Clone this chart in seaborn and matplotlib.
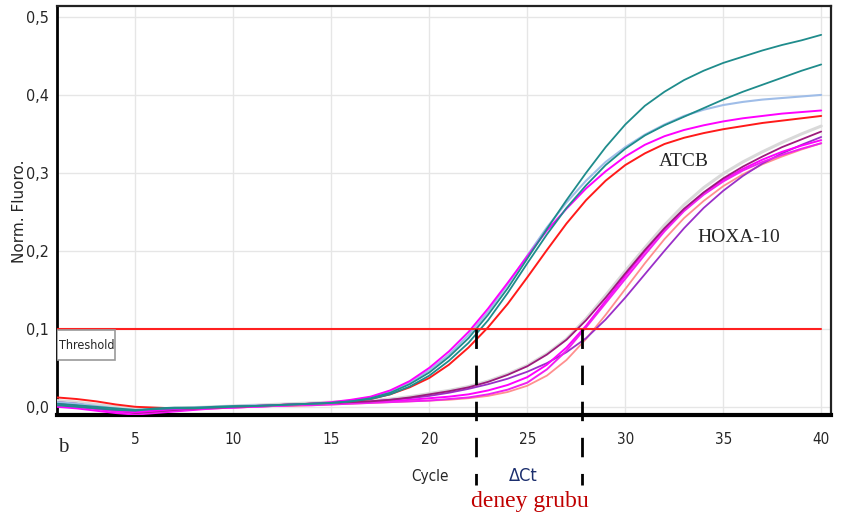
import numpy as np
import pandas as pd
import matplotlib
matplotlib.use("Agg")
import matplotlib.pyplot as plt
import matplotlib.patches as mpatches
import seaborn as sns

cycles = list(range(1, 41))

atcb_teal_a = [0.004, 0.002, 0.0, -0.002, -0.004, -0.003, -0.002, -0.002, -0.001, 0.000,
               0.001, 0.002, 0.003, 0.004, 0.005, 0.007, 0.011, 0.018, 0.029, 0.044,
               0.064, 0.088, 0.118, 0.152, 0.190, 0.228, 0.265, 0.300, 0.333, 0.362,
               0.386, 0.404, 0.419, 0.431, 0.441, 0.449, 0.457, 0.464, 0.470, 0.477]
atcb_teal_b = [0.002, 0.0, -0.002, -0.004, -0.005, -0.002, -0.001, -0.001, 0.0, 0.001,
               0.001, 0.002, 0.003, 0.004, 0.005, 0.007, 0.010, 0.016, 0.026, 0.040,
               0.059, 0.082, 0.111, 0.146, 0.184, 0.221, 0.255, 0.284, 0.310, 0.331,
               0.348, 0.361, 0.372, 0.383, 0.394, 0.404, 0.413, 0.422, 0.431, 0.439]
atcb_lightblue = [0.006, 0.004, 0.001, -0.002, -0.004, -0.003, -0.002, -0.001, 0.0, 0.001,
                  0.002, 0.002, 0.003, 0.004, 0.005, 0.008, 0.012, 0.020, 0.031, 0.047,
                  0.067, 0.092, 0.122, 0.157, 0.194, 0.230, 0.262, 0.290, 0.314, 0.333,
                  0.349, 0.362, 0.373, 0.381, 0.387, 0.391, 0.394, 0.396, 0.398, 0.400]
atcb_magenta = [0.003, 0.001, -0.002, -0.005, -0.007, -0.005, -0.003, -0.002, -0.001, 0.0,
                0.001, 0.002, 0.003, 0.004, 0.006, 0.009, 0.013, 0.021, 0.033, 0.050,
                0.071, 0.096, 0.126, 0.159, 0.193, 0.226, 0.254, 0.280, 0.302, 0.321,
                0.336, 0.347, 0.355, 0.361, 0.366, 0.370, 0.373, 0.376, 0.378, 0.380]
atcb_red = [0.012, 0.010, 0.007, 0.003, 0.0, -0.001, -0.002, -0.002, -0.001, 0.0,
            0.001, 0.002, 0.003, 0.004, 0.005, 0.007, 0.010, 0.016, 0.025, 0.037,
            0.054, 0.076, 0.102, 0.132, 0.166, 0.201, 0.235, 0.265, 0.290, 0.310,
            0.325, 0.337, 0.345, 0.351, 0.356, 0.360, 0.364, 0.367, 0.370, 0.373]

hoxa_grey = [0.008, 0.006, 0.003, 0.0, -0.003, -0.003, -0.002, -0.001, 0.0, 0.001,
             0.002, 0.003, 0.004, 0.005, 0.006, 0.007, 0.008, 0.010, 0.013, 0.017,
             0.021, 0.026, 0.033, 0.042, 0.053, 0.068, 0.087, 0.113, 0.143, 0.174,
             0.204, 0.233, 0.259, 0.281, 0.299, 0.314, 0.327, 0.339, 0.350, 0.360]
hoxa_darkmagenta = [0.006, 0.004, 0.0, -0.004, -0.008, -0.006, -0.004, -0.002, -0.001, 0.0,
                    0.001, 0.002, 0.003, 0.004, 0.005, 0.006, 0.007, 0.009, 0.012, 0.016,
                    0.020, 0.025, 0.032, 0.041, 0.052, 0.067, 0.086, 0.111, 0.140, 0.171,
                    0.201, 0.229, 0.254, 0.275, 0.293, 0.308, 0.321, 0.333, 0.343, 0.353]
hoxa_magenta_a = [0.002, 0.0, -0.003, -0.006, -0.009, -0.007, -0.005, -0.003, -0.002, -0.001,
                  0.0, 0.001, 0.002, 0.002, 0.003, 0.004, 0.005, 0.006, 0.007, 0.008,
                  0.010, 0.012, 0.016, 0.022, 0.031, 0.048, 0.072, 0.102, 0.133, 0.164,
                  0.195, 0.225, 0.251, 0.272, 0.289, 0.303, 0.314, 0.323, 0.331, 0.338]
hoxa_magenta_b = [0.0, -0.002, -0.005, -0.008, -0.010, -0.008, -0.006, -0.004, -0.002, -0.001,
                  0.0, 0.001, 0.002, 0.003, 0.004, 0.005, 0.006, 0.007, 0.009, 0.011,
                  0.013, 0.016, 0.021, 0.028, 0.038, 0.054, 0.076, 0.104, 0.136, 0.168,
                  0.199, 0.228, 0.253, 0.274, 0.291, 0.305, 0.317, 0.327, 0.335, 0.342]
hoxa_salmon = [0.004, 0.002, 0.0, -0.003, -0.006, -0.005, -0.004, -0.003, -0.002, -0.001,
               0.0, 0.001, 0.001, 0.002, 0.003, 0.004, 0.005, 0.006, 0.007, 0.008,
               0.009, 0.011, 0.014, 0.019, 0.027, 0.040, 0.060, 0.087, 0.118, 0.151,
               0.184, 0.215, 0.242, 0.264, 0.283, 0.298, 0.311, 0.321, 0.330, 0.338]
hoxa_purple = [0.005, 0.003, 0.0, -0.003, -0.005, -0.004, -0.003, -0.002, -0.001, 0.0,
               0.001, 0.002, 0.003, 0.004, 0.005, 0.006, 0.007, 0.009, 0.011, 0.014,
               0.018, 0.023, 0.029, 0.036, 0.045, 0.056, 0.070, 0.088, 0.112, 0.140,
               0.170, 0.200, 0.229, 0.255, 0.277, 0.296, 0.312, 0.325, 0.336, 0.346]

threshold = 0.1
ct_marks = [22.4, 27.8]
x_ticks = [5, 10, 15, 20, 25, 30, 35, 40]
y_ticks = [0.0, 0.1, 0.2, 0.3, 0.4, 0.5]
y_tick_labels = ["0,0", "0,1", "0,2", "0,3", "0,4", "0,5"]

series = {
    "hoxa_grey": (hoxa_grey, "#d9d9d9", 2.2),
    "hoxa_salmon": (hoxa_salmon, "#ff8f8f", 1.3),
    "hoxa_purple": (hoxa_purple, "#9a2fc8", 1.3),
    "hoxa_magenta_b": (hoxa_magenta_b, "#ff00ff", 1.4),
    "hoxa_magenta_a": (hoxa_magenta_a, "#f020f0", 1.4),
    "hoxa_darkmagenta": (hoxa_darkmagenta, "#9c1a7c", 1.3),
    "atcb_red": (atcb_red, "#ff1a1a", 1.4),
    "atcb_lightblue": (atcb_lightblue, "#9fbde8", 1.5),
    "atcb_magenta": (atcb_magenta, "#ff00ff", 1.4),
    "atcb_teal_b": (atcb_teal_b, "#1f8c8c", 1.3),
    "atcb_teal_a": (atcb_teal_a, "#1f8c8c", 1.3),
}

rows = []
for name, (vals, _, _) in series.items():
    for c, v in zip(cycles, vals):
        rows.append({"cycle": c, "value": v, "well": name})
df = pd.DataFrame(rows)

sns.set_theme(style="white")
plt.rcParams["font.family"] = ["Liberation Sans Narrow", "DejaVu Sans"]
plt.rcParams["font.stretch"] = "condensed"

serif = ["Liberation Serif", "DejaVu Serif"]

fig = plt.figure(figsize=(8.44, 5.19), dpi=100)
ax = fig.add_axes([57 / 844, 1 - 415 / 519, (831 - 57) / 844, (415 - 6) / 519])

for x in x_ticks:
    ax.axvline(x, color="#e6e6e6", lw=1.0, zorder=0)
for y in y_ticks:
    ax.axhline(y, color="#e6e6e6", lw=1.0, zorder=0)

for name, (vals, color, lw) in series.items():
    sub = df[df["well"] == name]
    sns.lineplot(data=sub, x="cycle", y="value", color=color, lw=lw, ax=ax,
                 legend=False, zorder=3)

ax.plot([cycles[0], cycles[-1]], [threshold, threshold], color="#ff2020", lw=1.5, zorder=4)

box = mpatches.Rectangle((1.0, 0.060), 2.98, 0.038, transform=ax.transData,
                         fc="white", ec="#999999", lw=1.2, zorder=5)
ax.add_patch(box)
ax.text(2.5, 0.079, "Threshold", fontsize=9, va="center", ha="center", zorder=6)

for ct in ct_marks:
    ax.plot([ct, ct], [threshold, -0.1], color="black", lw=2,
            linestyle=(0, (7, 6)), clip_on=False, zorder=6)

ax.set_xlim(1, 40.5)
ax.set_ylim(-0.0105, 0.514)
ax.set_xticks(x_ticks)
ax.set_xticklabels([str(t) for t in x_ticks], fontsize=11)
ax.set_yticks(y_ticks)
ax.set_yticklabels(y_tick_labels, fontsize=11.5)
ax.tick_params(axis="both", which="both", direction="out", length=4, width=1,
               color="#555555", pad=8)
ax.tick_params(axis="y", pad=2)
ax.set_xlabel("")
ax.set_ylabel("")

for side in ["top", "right"]:
    ax.spines[side].set_color("#222222")
    ax.spines[side].set_linewidth(1.6)
ax.spines["left"].set_color("black")
ax.spines["left"].set_linewidth(2)
ax.spines["bottom"].set_color("black")
ax.spines["bottom"].set_linewidth(3)

fig.text(20 / 844, 1 - 211 / 519, "Norm. Fluoro.", rotation=90, fontsize=11,
         ha="center", va="center", stretch="normal")
fig.text(430 / 844, 1 - 476 / 519, "Cycle", fontsize=11, ha="center", va="center")
fig.text(523 / 844, 1 - 476 / 519, "\u0394Ct", fontsize=13, ha="center", va="center",
         color="#1c2f6e")
fig.text(530 / 844, 1 - 502 / 519, "deney grubu", fontsize=17, ha="center", va="center",
         color="#c00000", family=serif, stretch="normal")
fig.text(63 / 844, 1 - 447 / 519, "b", fontsize=15, ha="center", va="center",
         family=serif, stretch="normal")
ax.text(33.0, 0.315, "ATCB", fontsize=14, ha="center", va="center",
        family=serif, stretch="normal", zorder=7)
ax.text(35.8, 0.217, "HOXA-10", fontsize=14, ha="center", va="center",
        family=serif, stretch="normal", zorder=7)

fig.savefig("out.png", dpi=100)
